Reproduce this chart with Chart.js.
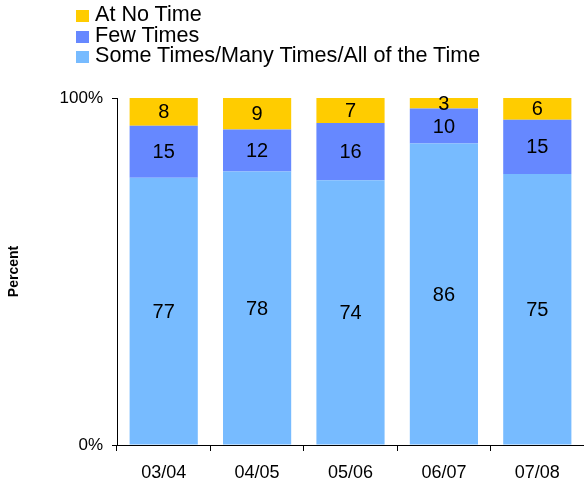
<!DOCTYPE html>
<html>
<head>
<meta charset="utf-8">
<script src="https://cdn.jsdelivr.net/npm/chart.js@4"></script>
<style>
  html, body { margin: 0; padding: 0; background: #fff; }
  #wrap { position: relative; width: 584px; height: 485px; }
  #legend { position: absolute; left: 76px; top: 4px; font-family: Arial, "Liberation Sans", sans-serif; font-size: 21.6px; color: #000; }
  .item { height: 20.5px; line-height: 20.5px; white-space: nowrap; }
  .box { display: inline-block; width: 13px; height: 12px; margin-right: 6px; vertical-align: -1px; }
</style>
</head>
<body>
<div id="wrap">
  <canvas id="chart" width="584" height="485"></canvas>
  <div id="legend"></div>
</div>
<script>
// Учебные годы
const years = ["03/04", "04/05", "05/06", "06/07", "07/08"];
// Значения (подписи на столбцах)
const someTimes = [77, 78, 74, 86, 75];
const fewTimes = [15, 12, 16, 10, 15];
const atNoTime = [8, 9, 7, 3, 6];
const yTicks = [0, 100];

const seriesNames = ["Some Times/Many Times/All of the Time", "Few Times", "At No Time"];
const seriesColors = ["#77BBFF", "#6688FF", "#FFCC00"];
const rawSeries = [someTimes, fewTimes, atNoTime];

// Столбцы нормируются до 100%
function toPercent(series) {
  return series.map((v, i) => {
    const total = someTimes[i] + fewTimes[i] + atNoTime[i];
    return (v / total) * 100;
  });
}

const font = "Arial, 'Liberation Sans', sans-serif";

// Легенда (в обратном порядке, как на картинке)
const legend = document.getElementById("legend");
for (let i = seriesNames.length - 1; i >= 0; i--) {
  const row = document.createElement("div");
  row.className = "item";
  row.innerHTML = '<span class="box" style="background:' + seriesColors[i] + '"></span>' + seriesNames[i];
  legend.appendChild(row);
}

// Подписи значений внутри сегментов
const valueLabels = {
  id: "valueLabels",
  afterDatasetsDraw(chart) {
    const ctx = chart.ctx;
    ctx.save();
    ctx.fillStyle = "#000";
    ctx.font = "20px " + font;
    ctx.textAlign = "center";
    ctx.textBaseline = "middle";
    chart.data.datasets.forEach((ds, di) => {
      const meta = chart.getDatasetMeta(di);
      meta.data.forEach((bar, i) => {
        const p = bar.getProps(["x", "y", "base"], true);
        ctx.fillText(String(rawSeries[di][i]), p.x, (p.y + p.base) / 2 + 1);
      });
    });
    ctx.restore();
  }
};

new Chart(document.getElementById("chart"), {
  type: "bar",
  data: {
    labels: years,
    datasets: rawSeries.map((s, i) => ({
      label: seriesNames[i],
      data: toPercent(s),
      backgroundColor: seriesColors[i],
      borderWidth: 0,
      barPercentage: 0.73,
      categoryPercentage: 1
    }))
  },
  options: {
    responsive: false,
    animation: false,
    layout: { padding: { top: 98, right: 0, left: 0, bottom: 0 } },
    plugins: {
      legend: { display: false },
      tooltip: { enabled: false }
    },
    scales: {
      x: {
        stacked: true,
        afterFit: (scale) => { scale.height = 40; },
        grid: { drawOnChartArea: false, drawTicks: true, tickLength: 6, color: "#000", offset: true },
        border: { display: true, color: "#000", width: 1 },
        ticks: { color: "#000", font: { family: font, size: 18 }, padding: 11, maxRotation: 0 }
      },
      y: {
        stacked: true,
        min: 0,
        max: 100,
        afterFit: (scale) => { scale.width = 117; },
        afterBuildTicks: (scale) => { scale.ticks = yTicks.map((v) => ({ value: v })); },
        grid: { drawOnChartArea: false, drawTicks: true, tickLength: 5, color: "#000" },
        border: { display: true, color: "#000", width: 1 },
        ticks: {
          color: "#000",
          font: { family: font, size: 17 },
          padding: 9,
          callback: (v) => v + "%"
        },
        title: {
          display: true,
          text: "Percent",
          color: "#000",
          font: { family: font, size: 14, weight: "bold" },
          padding: { top: 6, bottom: 0 }
        }
      }
    }
  },
  plugins: [valueLabels]
});
</script>
</body>
</html>
